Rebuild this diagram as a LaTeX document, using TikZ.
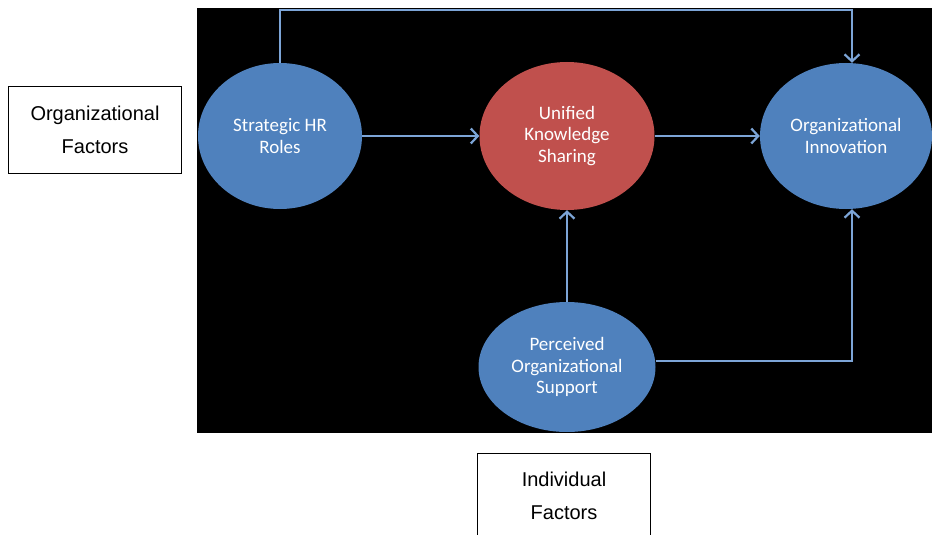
\documentclass[tikz,border=0pt]{standalone}
\usepackage{fontspec}
\setmainfont{Liberation Sans}
\newfontfamily\carl{Carlito}
\usetikzlibrary{shapes.geometric,arrows.meta}
\definecolor{ellblue}{RGB}{79,129,189}
\definecolor{ellred}{RGB}{192,80,77}
\definecolor{linkblue}{RGB}{125,165,215}
\tikzset{
  bubble/.style={ellipse, inner sep=0pt, text=white, align=center,
    font=\carl\fontsize{19}{21.5}\selectfont},
  factorbox/.style={draw=black, line width=1pt, fill=white, rectangle, inner sep=0pt,
    align=center, minimum width=173pt, font=\fontsize{20}{32.5}\selectfont},
  conn/.style={draw=linkblue, line width=2.6pt,
    -{Straight Barb[length=7pt,width=15pt,line width=2.2pt]}},
}
\begin{document}
\begin{tikzpicture}[x=1pt,y=-1pt]
\useasboundingbox (0,0) rectangle (932,535);
\clip (0,0) rectangle (932,535);
\fill[black] (197,8) rectangle (932,433);
\node[bubble, fill=ellblue, minimum width=164pt, minimum height=146pt] (shr) at (280,136) {Strategic HR\\Roles};
\node[bubble, fill=ellred, minimum width=175pt, minimum height=148pt] (uks) at (567,136) {Unified\\Knowledge\\Sharing};
\node[bubble, fill=ellblue, minimum width=172pt, minimum height=146pt] (oi) at (846,136) {Organizational\\Innovation};
\node[bubble, fill=ellblue, minimum width=177pt, minimum height=130pt] (pos) at (567,367) {Perceived\\Organizational\\Support};
\node[factorbox, minimum height=86pt] (orgf) at (95,130) {Organizational\\Factors};
\node[factorbox, minimum height=86pt] (indf) at (564,496) {Individual\\Factors};
\coordinate (topr) at (852,10);
\coordinate (botr) at (852,361);
\draw[conn] (shr.north) |- (topr) -- (topr |- oi.north);
\draw[conn] (shr.east) -- (uks.west);
\draw[conn] (uks.east) -- (oi.west);
\draw[conn] (pos.north) -- (uks.south);
\draw[conn] (pos.east |- botr) -- (botr) -- (botr |- oi.south);
\end{tikzpicture}
\end{document}
